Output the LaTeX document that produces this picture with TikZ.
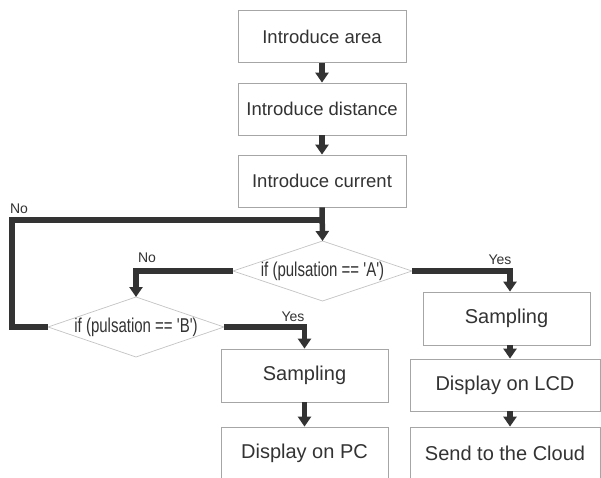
\documentclass[tikz,border=0pt]{standalone}
\usepackage{fontspec}
\setmainfont{Liberation Sans}
\newfontfamily\condfont[FakeStretch=0.75]{Liberation Sans}
\usetikzlibrary{arrows.meta}
\definecolor{ink}{HTML}{333333}
\definecolor{boxline}{HTML}{A6A6A6}
\definecolor{dialine}{HTML}{C4C4C4}
\begin{document}
\begin{tikzpicture}[x=1pt,y=-1pt,
  box/.style={draw=boxline,line width=0.8pt,minimum width=168pt,minimum height=52pt,inner sep=0pt,text=ink},
  intro/.style={box,font=\fontsize{18.5}{22}\selectfont},
  plain/.style={box,font=\fontsize{20}{24}\selectfont},
  dtext/.style={inner sep=0pt,text=ink,font=\condfont\fontsize{20}{24}\selectfont},
  dia/.style={draw=dialine,line width=0.7pt},
  thk/.style={draw=ink,line width=5.5pt},
  arr/.style={thk,-{Triangle[width=13pt,length=10pt]}},
  lbl/.style={inner sep=0pt,text=ink,font=\fontsize{14}{16}\selectfont}]
\useasboundingbox (0,0) rectangle (601,478);
\clip (0,0) rectangle (601,478);
\fill[white] (0,0) rectangle (601,478);
% boxes
\node[intro] (area) at (322,36.5) {Introduce area};
\node[intro] (dist) at (322,109) {Introduce distance};
\node[intro] (cur)  at (322,181) {Introduce current};
\node[plain,minimum width=167pt,minimum height=53pt] (sampR) at (506.5,318.5) {Sampling};
\node[plain,minimum width=190pt] (lcd) at (505,385) {Display on LCD};
\node[plain,minimum width=190pt] (cloud) at (505,453) {Send to the Cloud};
\node[plain,minimum width=167pt,minimum height=53pt] (sampL) at (304.5,375.5) {Sampling};
\node[plain,minimum width=167pt] (pc) at (304.5,453) {Display on PC};
% diamond A
\node[dtext] (dA) at (322.5,271) {if (pulsation == 'A')};
\coordinate (dAt) at (322.5,241);
\coordinate (dAb) at (322.5,301);
\coordinate (dAl) at (233,271);
\coordinate (dAr) at (412,271);
\draw[dia] (dAt) -- (dAr) -- (dAb) -- (dAl) -- cycle;
% diamond B
\node[dtext] (dB) at (136,327) {if (pulsation == 'B')};
\coordinate (dBt) at (136,297);
\coordinate (dBb) at (136,357);
\coordinate (dBl) at (48,327);
\coordinate (dBr) at (224,327);
\draw[dia] (dBt) -- (dBr) -- (dBb) -- (dBl) -- cycle;
% helper coordinates
\coordinate (xr) at (510,0);
\coordinate (lft) at (12,0);
\coordinate (j) at (322,220);
% connectors
\draw[arr] (area.south) -- (dist.north);
\draw[arr] (dist.south) -- (cur.north);
\draw[arr] (cur.south) -- (dAt);
\draw[thk,line join=miter] (dBl) -| (lft |- j) -- (j);
\draw[arr,line join=miter] (dAl) -| (dBt);
\draw[arr,line join=miter] (dAr) -| (sampR.north -| xr);
\draw[arr,line join=miter] (dBr) -| (sampL.north);
\draw[arr] (sampR.south -| xr) -- (lcd.north -| xr);
\draw[arr] (lcd.south -| xr) -- (cloud.north -| xr);
\draw[arr] (sampL.south) -- (pc.north);
% labels
\node[lbl] (no1) at (19,209) {No};
\node[lbl] (no2) at (147,258) {No};
\node[lbl] (yes1) at (500,260) {Yes};
\node[lbl] (yes2) at (293,317) {Yes};
\end{tikzpicture}
\end{document}
